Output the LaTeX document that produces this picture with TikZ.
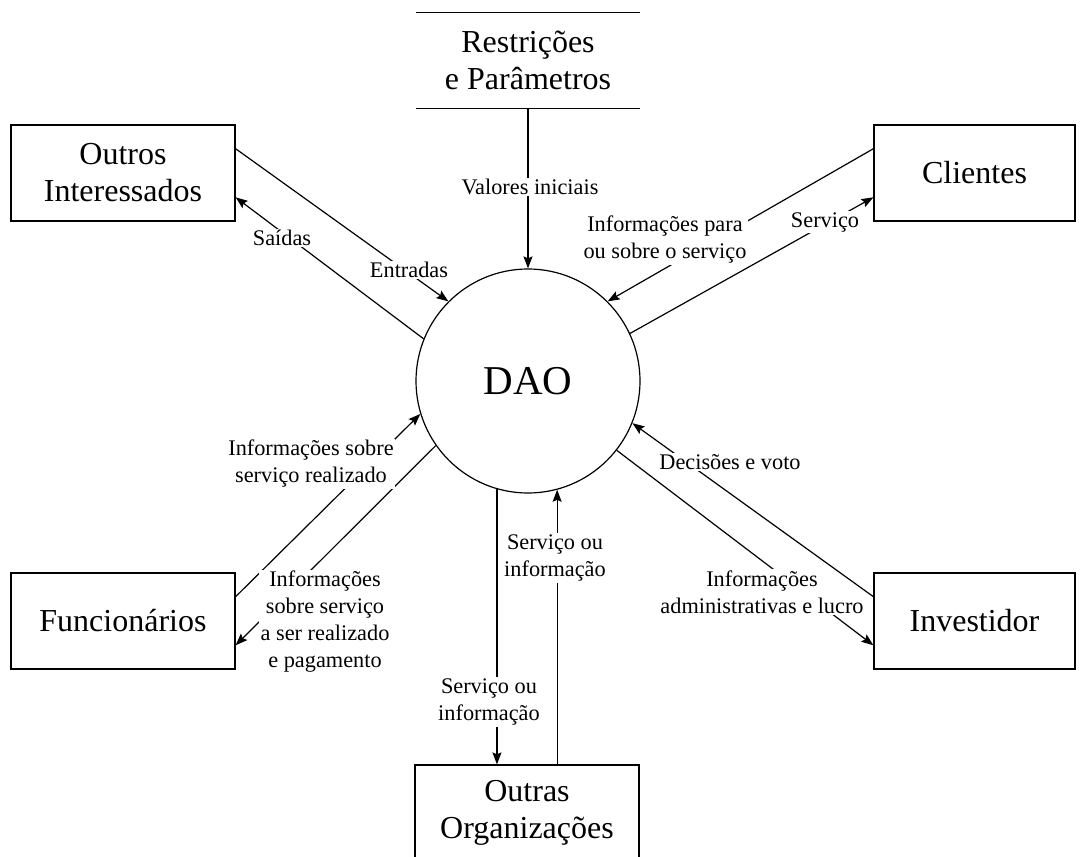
\documentclass[tikz,border=0pt]{standalone}
\usepackage{fontspec}
\setmainfont{Liberation Serif}
\usetikzlibrary{arrows.meta,calc}

\begin{document}
\begin{tikzpicture}[x=1pt,y=-1pt,
  line width=1.2pt,
  entity/.style={draw, minimum height=96pt, inner sep=0pt, align=center,
    font=\fontsize{32}{37}\selectfont},
  flow/.style={-{Stealth[length=12pt,width=9pt,inset=2pt]}},
  lbl/.style={fill=white, inner sep=1.5pt, align=center,
    font=\fontsize{22.3}{27}\selectfont}
]
\useasboundingbox (0,0) rectangle (1086,856);
\clip (0,0) rectangle (1086,856);

% central process
\node[circle, draw, minimum size=224pt, inner sep=0pt,
  font=\fontsize{41}{48}\selectfont] (dao) at (528,381) {DAO};

% external entities
\node[entity, minimum width=224pt] (oi) at (123,173) {Outros\\Interessados};
\node[entity, minimum width=201pt] (cl) at (974.5,173) {Clientes};
\node[entity, minimum width=224pt] (fu) at (123,621) {Funcionários};
\node[entity, minimum width=201pt] (inv) at (974.5,621) {Investidor};
\node[entity, minimum width=224pt] (oo) at (527,813) {Outras\\Organizações};

% data store
\node[minimum width=223pt, minimum height=95pt, inner sep=0pt, align=center,
  font=\fontsize{32}{37}\selectfont] (rp) at (528,60.5) {Restrições\\e Parâmetros};
\draw (rp.north west) -- (rp.north east);
\draw (rp.south west) -- (rp.south east);

% flows
\draw[flow] (rp.south) -- (dao.north);
\draw[flow] ($(oi.north east)!0.25!(oi.south east)$) -- (dao.135);
\draw[flow] (dao.158) -- ($(oi.north east)!0.75!(oi.south east)$);
\draw[flow] ($(cl.north west)!0.25!(cl.south west)$) -- (dao.45);
\draw[flow] (dao.25) -- ($(cl.north west)!0.75!(cl.south west)$);
\draw[flow] ($(fu.north east)!0.25!(fu.south east)$) -- (dao.197);
\draw[flow] (dao.215) -- ($(fu.north east)!0.75!(fu.south east)$);
\draw[flow] (dao.254) -- (dao.254 |- oo.north);
\draw[flow] (oo.north -| dao.285) -- (dao.285);
\draw[flow] (dao.322) -- ($(inv.north west)!0.75!(inv.south west)$);
\node[lbl] (l-adm) at (762,592) {Informações\\administrativas e lucro};
\draw[flow] ($(inv.north west)!0.25!(inv.south west)$) -- (dao.338);

% flow labels
\node[lbl] (l-val) at (530,187) {Valores iniciais};
\node[lbl] (l-ent) at (409,270) {Entradas};
\node[lbl] (l-sai) at (282,238) {Saídas};
\node[lbl] (l-inf) at (665,240) {Informações para\\ou sobre o serviço};
\node[lbl] (l-ser) at (825,222) {Serviço};
\node[lbl] (l-real) at (311,464) {Informações sobre\\serviço realizado};
\node[lbl] (l-pag) at (325,622) {Informações\\sobre serviço\\a ser realizado\\e pagamento};
\node[lbl] (l-oo1) at (555,558) {Serviço ou\\informação};
\node[lbl] (l-oo2) at (489,702) {Serviço ou\\informação};
\node[lbl] (l-dec) at (730,462) {Decisões e voto};
\end{tikzpicture}
\end{document}
